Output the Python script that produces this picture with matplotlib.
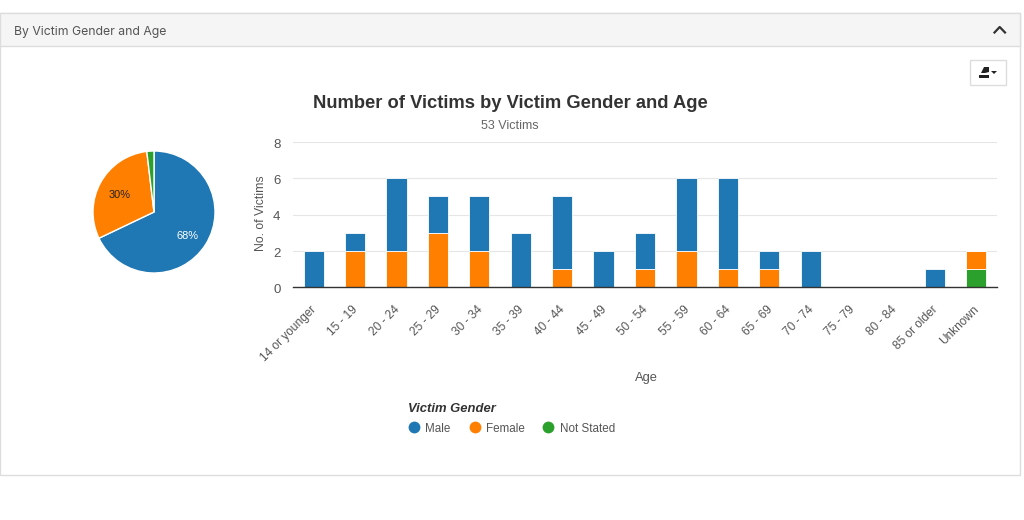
"""Number of victims by gender and age: pie plus stacked bars inside a card panel."""

import numpy as np
import matplotlib
matplotlib.use("Agg")
import matplotlib.pyplot as plt
from matplotlib.lines import Line2D
from matplotlib.patches import Rectangle, Polygon
from matplotlib.transforms import ScaledTranslation

W, H = 1024, 520

# ── Data ──────────────────────────────────────────────────────────────────────

age_groups = ["14 or younger", "15 - 19", "20 - 24", "25 - 29", "30 - 34", "35 - 39",
              "40 - 44", "45 - 49", "50 - 54", "55 - 59", "60 - 64", "65 - 69",
              "70 - 74", "75 - 79", "80 - 84", "85 or older", "Unknown"]
not_stated = [0, 0, 0, 0, 0, 0, 0, 0, 0, 0, 0, 0, 0, 0, 0, 0, 1]
female     = [0, 2, 2, 3, 2, 0, 1, 0, 1, 2, 1, 1, 0, 0, 0, 0, 1]
male       = [2, 1, 4, 2, 3, 3, 4, 2, 2, 4, 5, 1, 2, 0, 0, 1, 0]

pie_labels = ["Male", "Female", "Not Stated"]
pie_values = [36, 16, 1]
y_ticks = [0, 2, 4, 6, 8]

BLUE, ORANGE, GREEN = "#1f77b4", "#ff7f00", "#2ca02c"
TEXT = "#555555"

plt.rcParams["font.family"] = ["Liberation Sans", "DejaVu Sans"]


def axes_px(fig, left, top, right, bottom):
    """Axes from pixel edges, measured from the top left of the figure."""
    return fig.add_axes([left / W, 1 - bottom / H, (right - left) / W, (bottom - top) / H])


fig = plt.figure(figsize=(W / 100, H / 100), dpi=100, facecolor="white")

# ── Panel chrome ──────────────────────────────────────────────────────────────

bg = fig.add_axes([0, 0, 1, 1], zorder=0)
bg.set_xlim(0, W)
bg.set_ylim(H, 0)
bg.axis("off")
bg.add_patch(Rectangle((0, 13), 1020, 462, fc="white", ec="#dddddd", lw=1))
bg.add_patch(Rectangle((0, 13), 1020, 33, fc="#f5f5f5", ec="#dddddd", lw=1))
bg.text(14, 31.5, "By Victim Gender and Age", fontsize=8.8, color="#555555",
        family="Inter", va="center")
bg.plot([994.5, 999.7, 1005], [32.5, 27, 32.5], color="#333333", lw=1.6)

# export button
bg.add_patch(Rectangle((970, 60), 36, 25, fc="white", ec="#dddddd", lw=1))
bg.add_patch(Rectangle((979, 75), 10, 2.5, fc="#222222", ec="none"))
bg.add_patch(Polygon([[981, 73], [984, 67], [989, 67], [989, 72], [985, 73]],
                     fc="#222222", ec="none"))
bg.add_patch(Polygon([[991, 71], [997, 71], [994, 74]], fc="#222222", ec="none"))

# ── Pie ───────────────────────────────────────────────────────────────────────

ax_pie = axes_px(fig, 90, 148, 218, 276)
ax_pie.pie(pie_values, colors=[BLUE, ORANGE, GREEN], startangle=90, counterclock=False,
           radius=61 / 64, center=(0, 0),
           wedgeprops={"edgecolor": "white", "linewidth": 1})
ax_pie.set_xlim(-1, 1)
ax_pie.set_ylim(-1, 1)
ax_pie.text(0.52, -0.38, f"{pie_values[0] / sum(pie_values):.0%}", color="white",
            fontsize=7.9, ha="center", va="center")
ax_pie.text(-0.54, 0.26, f"{pie_values[1] / sum(pie_values):.0%}", color="#222222",
            fontsize=7.9, ha="center", va="center")

# ── Stacked bars ──────────────────────────────────────────────────────────────

ax = axes_px(fig, 293, 142, 997, 287)
x = np.arange(len(age_groups))
bottom = np.zeros(len(age_groups))
for values, color in [(not_stated, GREEN), (female, ORANGE), (male, BLUE)]:
    ax.bar(x, values, width=0.49, bottom=bottom, color=color, edgecolor="white",
           linewidth=0.6, zorder=3)
    bottom += np.array(values)

ax.set_xlim(-0.5, len(age_groups) - 0.5)
ax.set_ylim(0, 8)
ax.set_yticks(y_ticks)
ax.set_xticks(x)
ax.set_xticklabels(age_groups, rotation=45, ha="right", rotation_mode="anchor")
ax.tick_params(axis="y", length=0, pad=9, labelsize=9.5, labelcolor=TEXT)
ax.tick_params(axis="x", length=0, pad=12, labelsize=8.6, labelcolor=TEXT)
shift = ScaledTranslation(-3 / 100, 0, fig.dpi_scale_trans)
for label in ax.get_xticklabels():
    label.set_transform(label.get_transform() + shift)
yshift = ScaledTranslation(0, -1.5 / 100, fig.dpi_scale_trans)
for label in ax.get_yticklabels():
    label.set_transform(label.get_transform() + yshift)
ax.grid(axis="y", color="#e6e6e6", lw=0.8, zorder=0)
for side in ["top", "right", "left"]:
    ax.spines[side].set_visible(False)
ax.spines["bottom"].set_color("#333333")
ax.spines["bottom"].set_linewidth(1)
ax.spines["bottom"].set_zorder(5)

# ── Titles and legend, placed in panel coordinates ────────────────────────────

bg.text(510, 103.5, "Number of Victims by Victim Gender and Age", fontsize=13.2,
        fontweight="bold", color="#333333", ha="center", va="center")
bg.text(510, 126, f"{sum(pie_values)} Victims", fontsize=9, color="#666666",
        ha="center", va="center")
bg.text(261, 213.5, "No. of Victims", fontsize=8.8, color=TEXT, rotation=90,
        ha="center", va="center")
bg.text(646, 378, "Age", fontsize=9.3, color=TEXT, ha="center", va="center")
bg.text(408, 408.5, "Victim Gender", fontsize=9.4, color="#333333", fontweight="bold",
        fontstyle="italic", va="center")

for name, color, mx in zip(pie_labels, [BLUE, ORANGE, GREEN], [414, 474.5, 548]):
    bg.add_line(Line2D([mx], [426.5], marker="o", ms=8.5, color=color, mec="none", ls=""))
    bg.text(mx + 11.5, 428.5, name, fontsize=8.35, color=TEXT, va="center")

fig.savefig("out.png", dpi=100)
